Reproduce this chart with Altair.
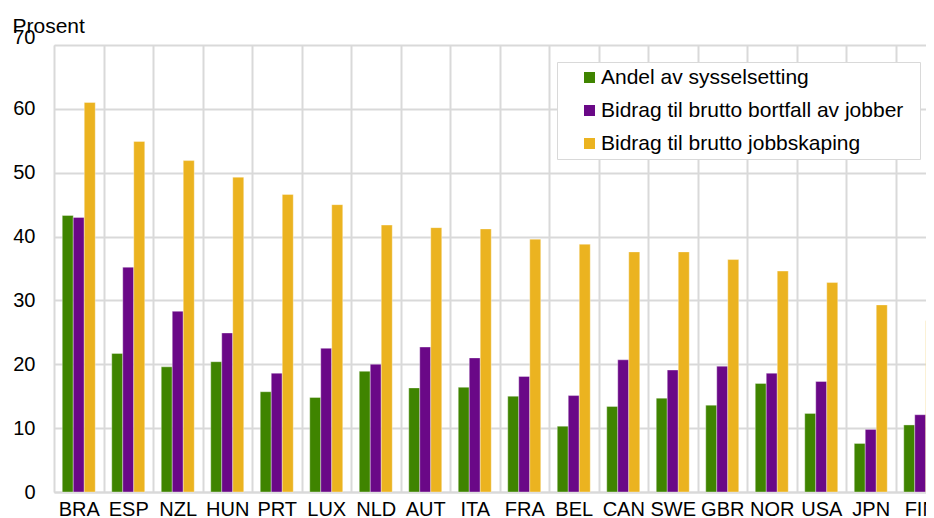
import altair as alt
import pandas as pd

countries = ["BRA", "ESP", "NZL", "HUN", "PRT", "LUX", "NLD", "AUT", "ITA",
             "FRA", "BEL", "CAN", "SWE", "GBR", "NOR", "USA", "JPN", "FIN"]
series = ["Andel av sysselsetting",
          "Bidrag til brutto bortfall av jobber",
          "Bidrag til brutto jobbskaping"]
colors = ["#3f8400", "#6a0887", "#ebb320"]

andel = [43.3, 21.7, 19.6, 20.4, 15.7, 14.8, 18.9, 16.3, 16.4,
         15.0, 10.3, 13.4, 14.7, 13.6, 17.0, 12.3, 7.6, 10.5]
bortfall = [43.0, 35.2, 28.3, 24.9, 18.6, 22.5, 20.0, 22.7, 21.0,
            18.1, 15.1, 20.7, 19.1, 19.7, 18.6, 17.3, 9.8, 12.1]
skaping = [61.0, 54.9, 51.9, 49.3, 46.6, 45.0, 41.8, 41.4, 41.2,
           39.6, 38.8, 37.6, 37.6, 36.4, 34.6, 32.8, 29.3, 26.8]

rows = []
for vals, s in zip([andel, bortfall, skaping], series):
    for c, v in zip(countries, vals):
        rows.append({"land": c, "serie": s, "verdi": v})
df = pd.DataFrame(rows)

FONT = "Liberation Sans"
GRID = "#d9d9d9"
pad_tail = "\u00a0" * 2 + "\u200b"

chart = alt.Chart(df).mark_bar(
    stroke="white", strokeWidth=0.6, strokeOpacity=0.6
).encode(
    x=alt.X("land:N", sort=countries, title=None,
            scale=alt.Scale(range=[0, 891], paddingInner=0, paddingOuter=0),
            axis=alt.Axis(labelAngle=0, ticks=False, grid=True, tickBand="extent",
                          gridColor=GRID, gridWidth=2, domainColor=GRID,
                          domainWidth=2, labelFont=FONT, labelFontSize=20,
                          labelColor="black", labelPadding=7, labelBaseline="top")),
    xOffset=alt.XOffset("serie:N", sort=series,
                        scale=alt.Scale(paddingOuter=0.75, paddingInner=0)),
    y=alt.Y("verdi:Q", title="Prosent",
            scale=alt.Scale(domain=[0, 70], nice=False),
            axis=alt.Axis(values=[0, 10, 20, 30, 40, 50, 60, 70], ticks=False,
                          domain=False, gridColor=GRID, gridWidth=2,
                          labelFont=FONT, labelFontSize=20, labelColor="black",
                          labelPadding=19,
                          labelBaseline={"condition": {"test": "datum.value == 70",
                                                       "value": "alphabetic"},
                                         "value": "middle"},
                          labelOffset={"condition": {"test": "datum.value == 70",
                                                     "value": -2},
                                       "value": 0},
                          titleAngle=0, titleX=-42, titleY=-13, titleAlign="left",
                          titleBaseline="alphabetic", titleFont=FONT,
                          titleFontSize=21, titleFontWeight="normal",
                          titleColor="black")),
    color=alt.Color("serie:N", sort=series,
                    scale=alt.Scale(domain=series, range=colors),
                    legend=alt.Legend(title=None, orient="none", legendX=503,
                                      legendY=17, padding=5, symbolOffset=17,
                                      symbolType="square", symbolSize=121,
                                      symbolStrokeWidth=0, labelOffset=1,
                                      rowPadding=11, labelFont=FONT,
                                      labelFontSize=21, labelColor="black",
                                      labelLimit=700,
                                      labelExpr="datum.label + '" + pad_tail + "'",
                                      strokeColor=GRID,
                                      fillColor="white")),
).properties(
    width=872, height=447, autosize="none",
    padding={"left": 46, "top": 37, "right": 0, "bottom": 26},
).configure_view(stroke=None).configure(background="white")

chart.save("out.html", embed_options={"renderer": "svg", "actions": False})
